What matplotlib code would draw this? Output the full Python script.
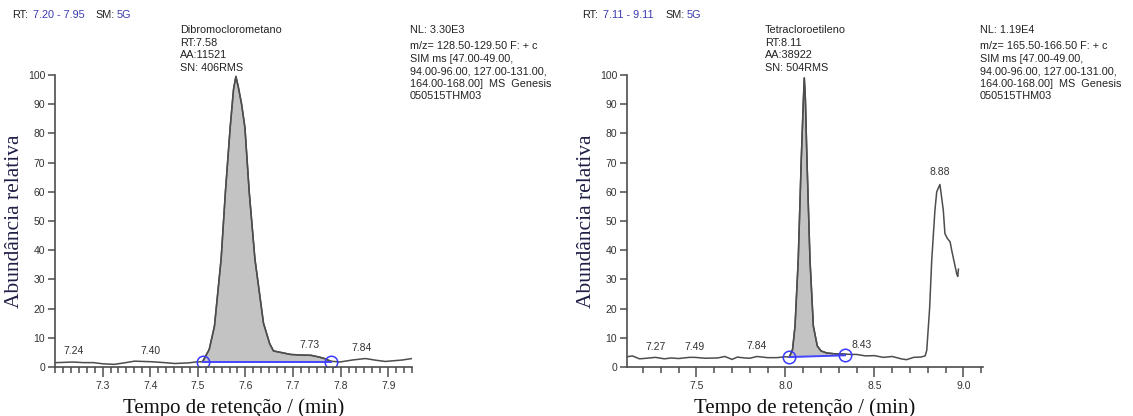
import matplotlib
matplotlib.use("Agg")
import matplotlib.pyplot as plt
from matplotlib.ticker import MultipleLocator, AutoMinorLocator, FormatStrFormatter
import numpy as np

plt.rcParams['font.family'] = ['Liberation Sans', 'DejaVu Sans']

W, H = 1133, 416

# --- painel 1: Dibromoclorometano ---
t1 = [7.20, 7.204, 7.238, 7.26, 7.281, 7.30, 7.324, 7.345, 7.367, 7.385, 7.403, 7.43, 7.452,
      7.48, 7.495, 7.51, 7.524, 7.535, 7.549, 7.558, 7.568, 7.575, 7.58, 7.585, 7.592, 7.599,
      7.608, 7.620, 7.638, 7.651, 7.659, 7.674, 7.695, 7.715, 7.738, 7.755, 7.766, 7.779,
      7.798, 7.825, 7.852, 7.875, 7.894, 7.93, 7.95]
y1 = [1.5, 1.5, 1.7, 1.5, 1.5, 1.1, 0.9, 1.4, 2.0, 1.9, 1.8, 1.5, 1.2,
      1.4, 1.7, 1.8, 6.0, 14.0, 37.0, 60.0, 82.0, 95.0, 99.5, 96.0, 90.0, 82.0,
      60.0, 37.0, 15.0, 8.0, 5.5, 5.0, 4.3, 4.1, 4.0, 3.4, 2.9, 2.0,
      1.7, 2.4, 2.9, 2.3, 1.9, 2.4, 2.9]
base1_t = [7.51, 7.779]
base1_y = [1.8, 1.8]
labels1 = [(7.24, "7.24"), (7.40, "7.40"), (7.735, "7.73"), (7.845, "7.84")]
labels1_y = [2.4, 2.6, 4.6, 3.5]

# --- painel 2: Tetracloroetileno ---
t2 = [7.11, 7.14, 7.18, 7.22, 7.27, 7.32, 7.36, 7.40, 7.46, 7.49, 7.55, 7.62, 7.66, 7.70,
      7.73, 7.77, 7.80, 7.84, 7.90, 7.95, 8.00, 8.022, 8.04, 8.054, 8.072, 8.089, 8.10,
      8.106, 8.112, 8.121, 8.138, 8.157, 8.179, 8.20, 8.232, 8.28, 8.335, 8.37, 8.40,
      8.45, 8.50, 8.55, 8.60, 8.65, 8.68, 8.72, 8.76, 8.785, 8.794, 8.81, 8.822, 8.84,
      8.85, 8.868, 8.887, 8.896, 8.91, 8.925, 8.934, 8.948, 8.962, 8.968, 8.972]
y2 = [3.5, 3.8, 2.8, 3.0, 3.3, 2.8, 3.1, 2.9, 3.3, 3.3, 3.0, 3.1, 3.6, 2.6,
      3.4, 3.1, 3.0, 3.6, 3.2, 3.2, 3.5, 3.4, 6.0, 14.0, 36.7, 71.0, 90.0,
      99.0, 92.0, 71.0, 36.7, 14.0, 7.2, 5.5, 4.8, 4.5, 4.4, 4.3, 4.3,
      3.8, 3.9, 3.3, 3.6, 2.8, 2.5, 3.3, 3.4, 3.8, 5.7, 20.0, 36.6, 53.7,
      60.0, 62.5, 53.7, 45.7, 44.0, 42.9, 40.0, 36.0, 32.0, 31.0, 33.5]
base2_t = [8.022, 8.335]
base2_y = [3.4, 4.0]
labels2 = [(7.27, "7.27"), (7.49, "7.49"), (7.84, "7.84"), (8.43, "8.43"), (8.868, "8.88")]
labels2_y = [4.0, 4.0, 4.3, 4.6, 64.0]

panels = [
    dict(t=t1, y=y1, bt=base1_t, by=base1_y, labs=labels1, laby=labels1_y,
         xlim=(7.20, 7.95), major=0.1, minor=6, left=55, right=412,
         rt="7.20 - 7.95", name="Dibromoclorometano\nRT:7.58\nAA:11521\nSN: 406RMS",
         nl="NL: 3.30E3",
         info="m/z= 128.50-129.50 F: + c\nSIM ms [47.00-49.00,\n94.00-96.00, 127.00-131.00,\n164.00-168.00]  MS  Genesis\n050515THM03",
         ox=0, name_x=180, info_x=410),
    dict(t=t2, y=y2, bt=base2_t, by=base2_y, labs=labels2, laby=labels2_y,
         xlim=(7.11, 9.11), major=0.5, minor=5, left=627, right=983,
         rt="7.11 - 9.11", name="Tetracloroetileno\nRT:8.11\nAA:38922\nSN: 504RMS",
         nl="NL: 1.19E4",
         info="m/z= 165.50-166.50 F: + c\nSIM ms [47.00-49.00,\n94.00-96.00, 127.00-131.00,\n164.00-168.00]  MS  Genesis\n050515THM03",
         ox=570, name_x=765, info_x=980),
]

fig = plt.figure(figsize=(W / 100, H / 100), dpi=100)
grey = "#4d4d4d"
blue = "#3a3ab0"
serif = "Liberation Serif"
fs = 7.8

for p in panels:
    top, bot = 75, 367
    ax = fig.add_axes([p["left"] / W, 1 - bot / H, (p["right"] - p["left"]) / W, (bot - top) / H])
    t = np.array(p["t"])
    y = np.array(p["y"])
    ax.plot(t, y, color=grey, lw=1.1)

    # area integrada
    bt, by = p["bt"], p["by"]
    m = (t >= bt[0]) & (t <= bt[1])
    base = np.interp(t[m], bt, by)
    ax.fill_between(t[m], base, y[m], color="#c3c3c3", lw=0)
    ax.plot(t[m], y[m], color=grey, lw=1.1)
    ax.plot(bt, by, color="#4545ff", lw=1.4)
    ax.plot(bt, by, "o", mfc="none", mec="#3b3bff", ms=9, mew=1.1)

    for (lx, s), ly in zip(p["labs"], p["laby"]):
        ax.text(lx, ly + 1.2, s, ha="center", va="bottom", fontsize=7.5, color="#333333")

    ax.set_xlim(*p["xlim"])
    ax.set_ylim(0, 100)
    ax.spines[["top", "right"]].set_visible(False)
    for s in ["left", "bottom"]:
        ax.spines[s].set_color(grey)
        ax.spines[s].set_linewidth(1.2)
    ax.xaxis.set_major_locator(MultipleLocator(p["major"]))
    ax.xaxis.set_minor_locator(AutoMinorLocator(p["minor"]))
    ax.yaxis.set_major_locator(MultipleLocator(10))
    ax.tick_params(axis="both", which="major", length=5, width=1.1, color=grey,
                   labelsize=7.5, labelcolor="#333333", pad=2)
    ax.tick_params(axis="x", which="minor", length=4, width=1.1, color=grey)
    ax.tick_params(axis="x", which="major", length=7, pad=3)
    ax.set_xticks([v for v in ax.get_xticks() if p["xlim"][0] < v < p["xlim"][1]])
    ax.xaxis.set_major_formatter(FormatStrFormatter("%.1f"))

    ax.set_ylabel("Abundância relativa", family=serif, fontsize=15.5, color="#1e1e46", labelpad=3)
    ax.set_xlabel("Tempo de retenção / (min)", family=serif, fontsize=15, color="#111111", labelpad=5)

    # cabeçalho
    ox = p["ox"]
    hy = 1 - 15 / H
    fig.text((ox + 12) / W, hy, "RT:", fontsize=fs, va="center", color="#222222")
    fig.text((ox + 33) / W, hy, p["rt"], fontsize=fs, va="center", color=blue)
    fig.text((ox + 95) / W, hy, "SM:", fontsize=fs, va="center", color="#222222")
    fig.text((ox + 117) / W, hy, "5G", fontsize=fs, va="center", color=blue)

    fig.text(p["name_x"] / W, 1 - 25 / H, p["name"], fontsize=fs, va="top", ha="left",
             color="#222222", linespacing=1.32)
    fig.text(p["info_x"] / W, 1 - 25 / H, p["nl"], fontsize=fs, va="top", ha="left",
             color="#222222")
    fig.text(p["info_x"] / W, 1 - 41 / H, p["info"], fontsize=fs, va="top", ha="left",
             color="#222222", linespacing=1.32)

fig.savefig("out.png", dpi=100)
